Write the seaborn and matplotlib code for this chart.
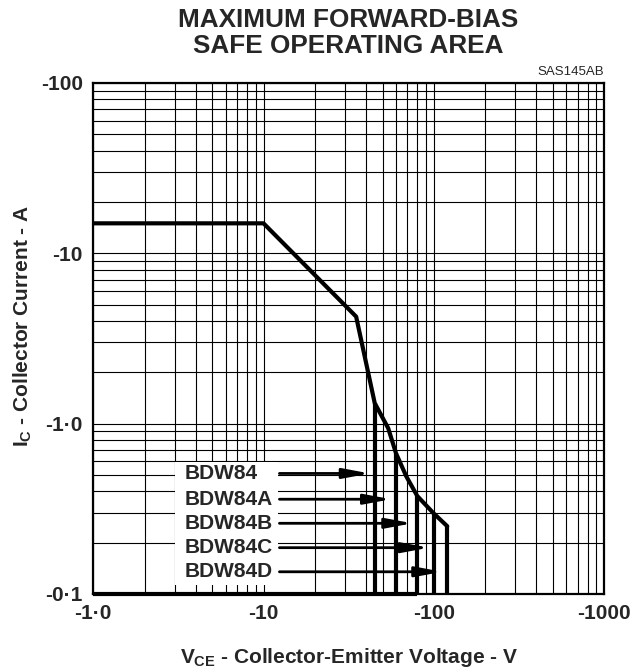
import matplotlib
matplotlib.use('Agg')
import matplotlib.pyplot as plt
import matplotlib.patches as mpatches
import numpy as np
import pandas as pd
import seaborn as sns

# SOA boundary (V, A)
soa_v = [1, 10, 35, 45, 54, 60, 69, 80, 100, 120]
soa_i = [15, 15, 4.25, 1.32, 0.94, 0.67, 0.49, 0.376, 0.297, 0.25]

# device variants, their V_CEO limit and where the curve meets that limit
devices = ['BDW84', 'BDW84A', 'BDW84B', 'BDW84C', 'BDW84D']
vceo = [45, 60, 80, 100, 120]
limit_top = [1.32, 0.67, 0.376, 0.297, 0.25]
arrow_i = [0.51, 0.36, 0.26, 0.187, 0.135]

x_ticks = [1, 10, 100, 1000]
x_labels = ['-1·0', '-10', '-100', '-1000']
y_ticks = [0.1, 1, 10, 100]
y_labels = ['-0·1', '-1·0', '-10', '-100']

sns.set_style('white')
plt.rcParams['font.family'] = ['Liberation Sans', 'DejaVu Sans']
plt.rcParams['mathtext.fontset'] = 'custom'
plt.rcParams['mathtext.rm'] = 'Liberation Sans:bold'
plt.rcParams['mathtext.it'] = 'Liberation Sans:bold'
plt.rcParams['mathtext.bf'] = 'Liberation Sans:bold'

fig = plt.figure(figsize=(6.32, 6.72), dpi=100)
ax = fig.add_axes([0.1476, 0.1161, 0.8081, 0.7604])
ax.set_xscale('log')
ax.set_yscale('log')
ax.set_xlim(1, 1000)
ax.set_ylim(0.1, 100)

ax.set_axisbelow(True)
ax.grid(which='both', color='black', linewidth=0.8)

# boundary curve
df = pd.DataFrame({'v': soa_v, 'i': soa_i})
sns.lineplot(data=df, x='v', y='i', sort=False, estimator=None,
             color='black', linewidth=3, ax=ax, zorder=4)

# voltage limit of each variant
for v, top in zip(vceo, limit_top):
    ax.plot([v, v], [top, 0.1], color='black', linewidth=3, zorder=4,
            solid_capstyle='butt')
# bottom edge of the area drawn heavy up to the B limit
ax.plot([1, vceo[2]], [0.1, 0.1], color='black', linewidth=3, zorder=4,
        clip_on=False, solid_capstyle='butt')

# white panel behind the labels
ax.add_patch(mpatches.Rectangle((3.02, 0.113), 12.2 - 3.02, 0.595 - 0.113,
                                facecolor='white', edgecolor='none', zorder=2))

for name, v, yi in zip(devices, vceo, arrow_i):
    ax.text(3.46, yi, name, fontsize=15, fontweight='bold', va='center',
            ha='left', zorder=5)
    # negative shrink pushes the thin tip right up to the limit line
    ax.annotate('', xy=(v, yi), xytext=(12.4, yi),
                arrowprops=dict(arrowstyle='-|>,head_length=1.6,head_width=0.3',
                                color='black', lw=2.0, shrinkA=0, shrinkB=-3.5,
                                mutation_scale=10),
                zorder=5)

ax.set_xticks(x_ticks)
ax.set_xticklabels(x_labels)
ax.set_yticks(y_ticks)
ax.set_yticklabels(y_labels)
ax.xaxis.set_minor_formatter(matplotlib.ticker.NullFormatter())
ax.yaxis.set_minor_formatter(matplotlib.ticker.NullFormatter())
ax.tick_params(which='both', length=0)
ax.tick_params(axis='x', pad=7)
ax.tick_params(axis='y', pad=7.5)
for lab in ax.get_xticklabels() + ax.get_yticklabels():
    lab.set_fontsize(15)
    lab.set_fontweight('bold')

for s in ax.spines.values():
    s.set_color('black')
    s.set_linewidth(1.6)

ax.set_xlabel(r'$V_{CE}$ - Collector-Emitter Voltage - V', fontsize=15,
              fontweight='bold')
ax.set_ylabel(r'$I_C$ - Collector Current - A', fontsize=15, fontweight='bold')
ax.xaxis.set_label_coords(0.5, -0.102)
ax.yaxis.set_label_coords(-0.116, 0.524)

fig.text(0.551, 1 - 27.3 / 672, 'MAXIMUM FORWARD-BIAS', fontsize=18.8,
         fontweight='bold', ha='center', va='baseline')
fig.text(0.551, 1 - 53.3 / 672, 'SAFE OPERATING AREA', fontsize=18.8,
         fontweight='bold', ha='center', va='baseline')
fig.text(604 / 632, 1 - 75 / 672, 'SAS145AB', fontsize=9.5,
         ha='right', va='baseline')

fig.savefig('out.png', dpi=100)
